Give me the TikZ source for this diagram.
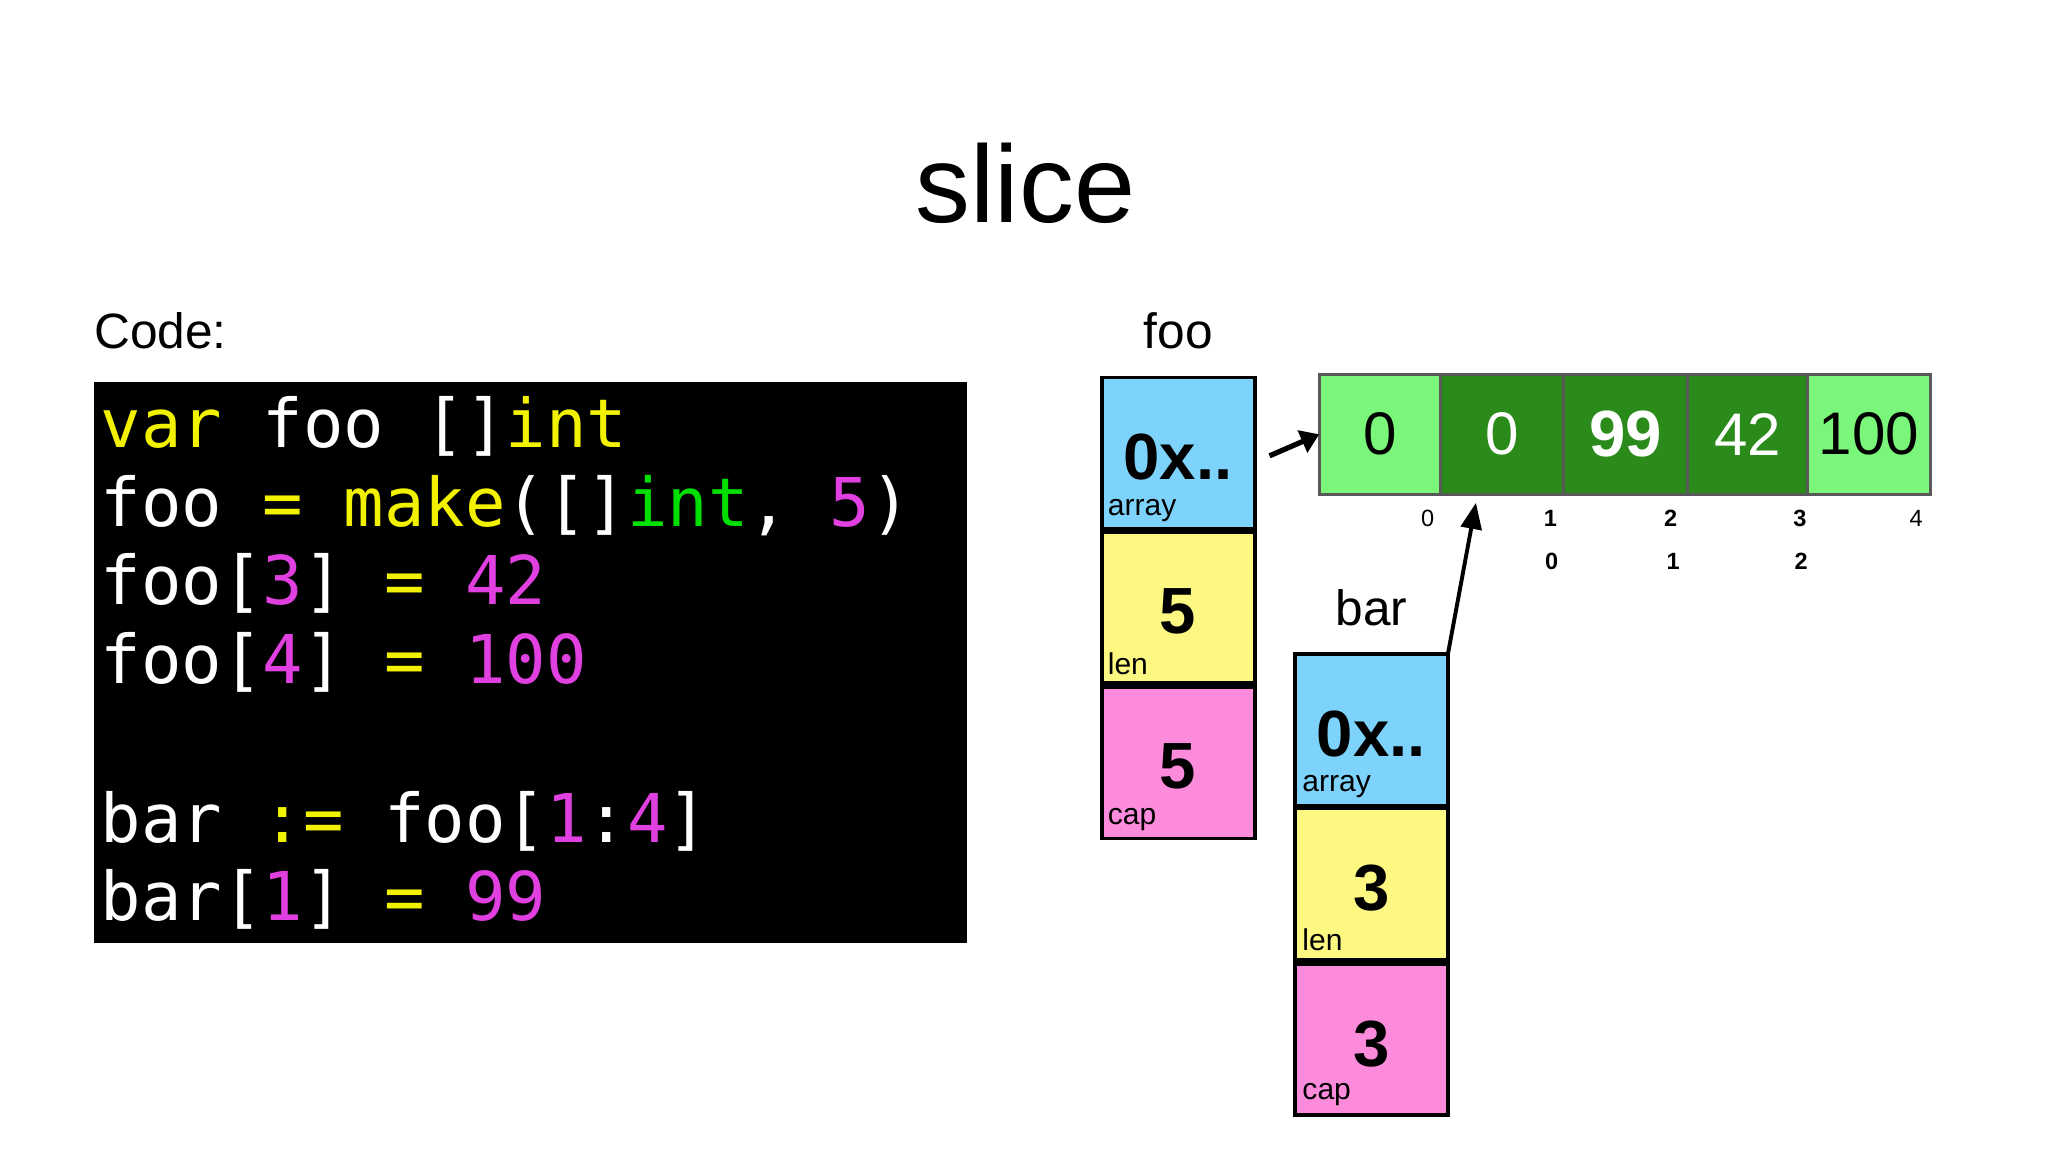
\documentclass[tikz,border=0pt]{standalone}
\usepackage{fontspec}
\setmainfont{Liberation Sans}
\setmonofont{DejaVu Sans Mono}
\usetikzlibrary{arrows.meta}
\definecolor{cy}{HTML}{F2F200}
\definecolor{cg}{HTML}{00E000}
\definecolor{cm}{HTML}{E040E0}
\definecolor{sblue}{HTML}{7DD3FB}
\definecolor{syel}{HTML}{FDF882}
\definecolor{spink}{HTML}{FC8BDC}
\definecolor{lg}{HTML}{7AF77A}
\definecolor{dg}{HTML}{2A8A1A}
\newcommand{\Y}[1]{\textcolor{cy}{#1}}
\newcommand{\G}[1]{\textcolor{cg}{#1}}
\newcommand{\M}[1]{\textcolor{cm}{#1}}
\begin{document}
\begin{tikzpicture}[x=1pt,y=-1pt,
 cell/.style={draw=black,line width=3pt,minimum width=117pt,minimum height=116pt,inner sep=0pt,outer sep=0pt},
 big/.style={font=\fontsize{50}{50}\selectfont\bfseries},
 small/.style={font=\fontsize{23}{23}\selectfont,anchor=south west,inner sep=0pt},
 acell/.style={draw=black!65,line width=2.5pt,minimum height=92pt,inner sep=0pt,outer sep=0pt,font=\fontsize{46}{46}\selectfont},
 code/.style={anchor=base west,inner sep=0pt,text=white,font=\fontsize{51.5}{51.5}\ttfamily},
 idx/.style={font=\fontsize{18}{18}\selectfont,inner sep=0pt},
 arr/.style={line width=4pt,-{Triangle[length=14pt,width=18pt]}}]
\useasboundingbox (0,0) rectangle (1568,882);
\node[font=\fontsize{84}{84}\selectfont] (title) at (785,140) {slice};
\node[font=\fontsize{38}{38}\selectfont,anchor=west,inner sep=0pt] (codelbl) at (72,253) {Code:};
\node[fill=black,minimum width=668pt,minimum height=430pt,anchor=north west,inner sep=0pt] (codebox) at (72,292) {};
\node[code] (l1) at (77,343) {\Y{var} foo []\Y{int}};
\node[code] (l2) at (77,403) {foo \Y{=} \Y{make}([]\G{int}, \M{5})};
\node[code] (l3) at (77,463) {foo[\M{3}] \Y{=} \M{42}};
\node[code] (l4) at (77,523) {foo[\M{4}] \Y{=} \M{100}};
\node[code] (l6) at (77,645) {bar \Y{:=} foo[\M{1}:\M{4}]};
\node[code] (l7) at (77,705) {bar[\M{1}] \Y{=} \M{99}};
% foo struct
\node[font=\fontsize{38}{38}\selectfont] (foolbl) at (902,253) {foo};
\node[cell,fill=sblue] (fa) at (902,347) {};
\node[cell,fill=syel] (fl) at (902,465) {};
\node[cell,fill=spink] (fc) at (902,584) {};
\node[big] at (902,350) {0x..};
\node[small] at (848,400) {array};
\node[big] at (902,468) {5};
\node[small] at (848,517) {len};
\node[big] at (902,587) {5};
\node[small] at (848,636) {cap};
% bar struct
\node[font=\fontsize{38}{38}\selectfont] (barlbl) at (1050,465) {bar};
\node[cell,fill=sblue] (ba) at (1050,559) {};
\node[cell,fill=syel] (bl) at (1050,677) {};
\node[cell,fill=spink] (bc) at (1050,796) {};
\node[big] at (1050,562) {0x..};
\node[small] at (997,611) {array};
\node[big] at (1050,680) {3};
\node[small] at (997,728) {len};
\node[big] at (1050,799) {3};
\node[small] at (997,847) {cap};
% array
\node[acell,fill=lg,minimum width=93pt] (a0) at (1056.5,332.5) {0};
\node[acell,fill=dg,minimum width=94pt,text=white] (a1) at (1150,332.5) {0};
\node[acell,fill=dg,minimum width=95pt,text=white,font=\fontsize{50}{50}\selectfont\bfseries] (a2) at (1244.5,332.5) {99};
\node[acell,fill=dg,minimum width=92pt,text=white] (a3) at (1338,332.5) {42};
\node[acell,fill=lg,minimum width=94pt] (a4) at (1431,332.5) {100};
\node[idx] at (1093,397) {0};
\node[idx,font=\fontsize{18}{18}\selectfont\bfseries] at (1187,397) {1};
\node[idx,font=\fontsize{18}{18}\selectfont\bfseries] at (1279,397) {2};
\node[idx,font=\fontsize{18}{18}\selectfont\bfseries] at (1378,397) {3};
\node[idx] at (1467,397) {4};
\node[idx,font=\fontsize{18}{18}\selectfont\bfseries] at (1188,430) {0};
\node[idx,font=\fontsize{18}{18}\selectfont\bfseries] at (1281,430) {1};
\node[idx,font=\fontsize{18}{18}\selectfont\bfseries] at (1379,430) {2};
% arrows
\coordinate (fs) at (972,349);
\draw[arr] (fs) -- (a0.west);
\coordinate (bt) at (1130,385);
\draw[line width=3pt,-{Triangle[length=20pt,width=16pt]}] (ba.north east) -- (bt);
\end{tikzpicture}
\end{document}
